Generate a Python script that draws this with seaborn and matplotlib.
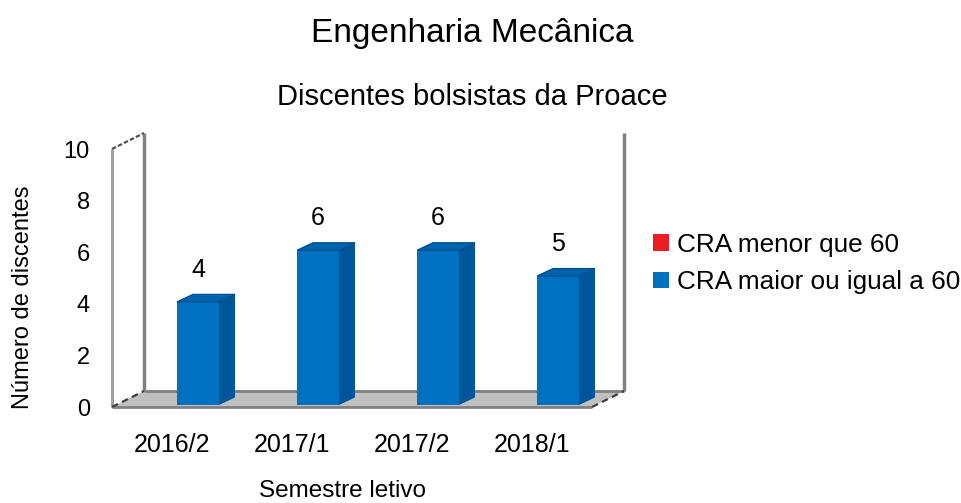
import matplotlib
matplotlib.use("Agg")
import matplotlib.pyplot as plt
from matplotlib.patches import Polygon, Patch
from matplotlib.transforms import ScaledTranslation
import seaborn as sns
import pandas as pd

# ---- data ----
categorias = ["2016/2", "2017/1", "2017/2", "2018/1"]
cra_menor_60 = [0, 0, 0, 0]
cra_maior_igual_60 = [4, 6, 6, 5]
y_ticks = [0, 2, 4, 6, 8, 10]
series_labels = ["CRA menor que 60", "CRA maior ou igual a 60"]

titulo = "Engenharia Mecânica"
subtitulo = "Discentes bolsistas da Proace"
x_label = "Semestre letivo"
y_label = "Número de discentes"

# ---- style ----
AZUL = "#0070c0"
AZUL_LADO = "#00569a"
AZUL_TOPO = "#0063ad"
VERMELHO = "#ed1c24"
CINZA = "#808080"
PISO = "#c0c0c0"

sns.set_theme(style="white")
plt.rcParams["font.family"] = ["Liberation Sans", "DejaVu Sans"]
plt.rcParams["text.color"] = "black"
plt.rcParams["axes.labelcolor"] = "black"
plt.rcParams["xtick.color"] = "black"
plt.rcParams["ytick.color"] = "black"

W, H = 962, 503
fig = plt.figure(figsize=(W / 100, H / 100), dpi=100)
fig.patch.set_facecolor("white")
L, R, B, T = 112, 592, 407, 149
ax = fig.add_axes([L / W, 1 - B / H, (R - L) / W, (B - T) / H])
ax.set_facecolor("none")

df_maior = pd.DataFrame({"Semestre": categorias, "Valor": cra_maior_igual_60})
sns.barplot(data=df_maior, x="Semestre", y="Valor", order=categorias, color=AZUL,
            saturation=1, width=0.35, errorbar=None, linewidth=0, ax=ax, zorder=3)
blue_bars = list(ax.patches)
# second (stacked) series: all zero
ax.bar(range(len(categorias)), cra_menor_60, bottom=cra_maior_igual_60, width=0.35,
       color=VERMELHO, linewidth=0, zorder=3)

ax.set_xlim(-0.5, len(categorias) - 0.5)
ax.set_ylim(0, 10)
ax.set_yticks(y_ticks)
ax.set_xlabel("")
ax.set_ylabel("")
for s in ax.spines.values():
    s.set_visible(False)
ax.grid(False)
ax.tick_params(axis="y", length=0, pad=16, labelsize=17, labelcolor="black")
ax.tick_params(axis="x", length=0, pad=19, labelsize=18, labelcolor="black")

px_x = (R - L) / len(categorias)
px_y = (B - T) / 10.0
x0a, x1a = -0.5, len(categorias) - 0.5

# ---- 3D walls / floor ----
wdx, wdy = 32 / px_x, 16 / px_y
floor = Polygon([(x0a, 0), (x1a, 0), (x1a + wdx, wdy), (x0a + wdx, wdy)],
                closed=True, facecolor=PISO, edgecolor="none", zorder=1, clip_on=False)
ax.add_patch(floor)
kw = dict(clip_on=False, solid_capstyle="butt")
ax.plot([x0a + wdx, x1a + wdx], [wdy, wdy], color=CINZA, lw=2, zorder=1.5, **kw)
ax.plot([x0a, x1a], [0, 0], color=CINZA, lw=2, zorder=1.5, **kw)
ax.plot([x0a, x0a], [0, 10], color="#a0a0a0", lw=2.2, zorder=1.5, **kw)
ax.plot([x0a + wdx, x0a + wdx], [wdy, 10 + wdy], color=CINZA, lw=2.5, zorder=1.5, **kw)
ax.plot([x1a + wdx, x1a + wdx], [wdy, 10 + wdy], color=CINZA, lw=2.5, zorder=1.5, **kw)
ax.plot([x0a, x0a + wdx], [10, 10 + wdy], color="#505050", lw=1.6, ls=(0, (2, 1)), zorder=1.6, clip_on=False)
ax.plot([x0a, x0a + wdx], [0, wdy], color="#404040", lw=1.6, ls=(0, (3, 2)), zorder=1.6, clip_on=False)
ax.plot([x1a, x1a + wdx], [0, wdy], color="#404040", lw=1.6, ls=(0, (3, 2)), zorder=1.6, clip_on=False)

# ---- 3D bars ----
shift = ax.transData + ScaledTranslation(26 / 100, 2 / 100, fig.dpi_scale_trans)
bdx, bdy = 16 / px_x, 7.5 / px_y
for p, v in zip(blue_bars, cra_maior_igual_60):
    p.set_transform(shift)
    bx, bw, by, bh = p.get_x(), p.get_width(), p.get_y(), p.get_height()
    side = Polygon([(bx + bw, by), (bx + bw + bdx, by + bdy), (bx + bw + bdx, by + bh + bdy), (bx + bw, by + bh)],
                   closed=True, facecolor=AZUL_LADO, edgecolor="none", zorder=3, transform=shift, clip_on=False)
    top = Polygon([(bx, by + bh), (bx + bw, by + bh), (bx + bw + bdx, by + bh + bdy), (bx + bdx, by + bh + bdy)],
                  closed=True, facecolor=AZUL_TOPO, edgecolor="#004a85", linewidth=0.8, zorder=3, transform=shift, clip_on=False)
    ax.add_patch(side)
    ax.add_patch(top)
    ax.text(bx + bw / 2, by + bh + 0.97, f"{v}", ha="center", va="baseline", fontsize=18,
            color="black", transform=shift, clip_on=False)

# ---- legend ----
handles = [Patch(facecolor=VERMELHO, edgecolor="none"), Patch(facecolor=AZUL, edgecolor="none")]
leg = ax.legend(handles, series_labels, loc="center left", bbox_to_anchor=(653 / W, 1 - 263.5 / H),
                bbox_transform=fig.transFigure, frameon=False, fontsize=18.8, handlelength=0.6,
                handleheight=0.6, handletextpad=0.33, labelspacing=0.5, borderpad=0, borderaxespad=0)
for t in leg.get_texts():
    t.set_color("black")

# ---- texts ----
fig.text(472 / W, 1 - 42 / H, titulo, ha="center", va="baseline", fontsize=24, color="black")
fig.text(472 / W, 1 - 105 / H, subtitulo, ha="center", va="baseline", fontsize=21, color="black")
fig.text(23 / W, 1 - 297 / H, y_label, rotation=90, ha="center", va="center", fontsize=17, color="black")
fig.text(343 / W, 1 - 497 / H, x_label, ha="center", va="baseline", fontsize=17.5, color="black")

fig.savefig("out.png", dpi=100, facecolor="white")
